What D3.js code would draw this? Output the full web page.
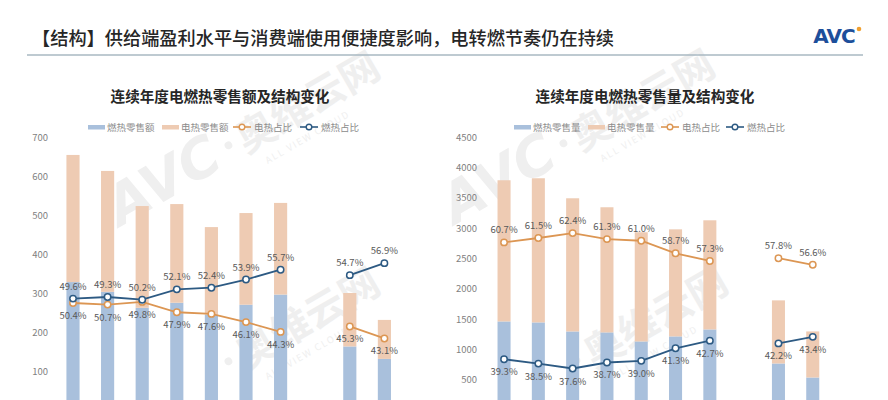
<!DOCTYPE html>
<html><head><meta charset="utf-8">
<script src="https://cdn.jsdelivr.net/npm/d3@7"></script>
<style>
html,body{margin:0;padding:0;background:#fff;}
svg{display:block;font-family:"Noto Sans CJK SC","Noto Sans",sans-serif;}
</style></head>
<body>
<svg id="c" width="888" height="400"></svg>
<script>
// ---------- data ----------
const categories = ["2017","2018","2019","2020","2021","2022","2023"," ","2023H1","2024H1"];

// left chart: retail sales value
const gasSales  = [328, 303, 262, 275, 245, 270, 296, null, 163, 131];
const elecSales = [326, 310, 261, 253, 224, 235, 235, null, 137, 100];
const gasShareA  = [50.4, 50.7, 50.2, 52.1, 52.4, 53.9, 55.7, null, 54.7, 56.9];
const elecShareA = [49.6, 49.3, 49.8, 47.9, 47.6, 46.1, 44.3, null, 45.3, 43.1];
const gasLabelsA  = ["49.6%","49.3%","50.2%","52.1%","52.4%","53.9%","55.7%","","54.7%","56.9%"];
const elecLabelsA = ["50.4%","50.7%","49.8%","47.9%","47.6%","46.1%","44.3%","","45.3%","43.1%"];
const ticksA = [100,200,300,400,500,600,700];

// right chart: retail volume
const gasVol  = [1460, 1444, 1295, 1279, 1130, 1213, 1328, null, 767, 536];
const elecVol = [2327, 2376, 2195, 2063, 1800, 1765, 1799, null, 1040, 759];
const gasShareB  = [39.3, 38.5, 37.6, 38.7, 39.0, 41.3, 42.7, null, 42.2, 43.4];
const elecShareB = [60.7, 61.5, 62.4, 61.3, 61.0, 58.7, 57.3, null, 57.8, 56.6];
const gasLabelsB  = ["39.3%","38.5%","37.6%","38.7%","39.0%","41.3%","42.7%","","42.2%","43.4%"];
const elecLabelsB = ["60.7%","61.5%","62.4%","61.3%","61.0%","58.7%","57.3%","","57.8%","56.6%"];
const ticksB = [500,1000,1500,2000,2500,3000,3500,4000,4500];

const mainTitle = "【结构】供给端盈利水平与消费端使用便捷度影响，电转燃节奏仍在持续";
const titleA = "连续年度电燃热零售额及结构变化";
const titleB = "连续年度电燃热零售量及结构变化";
const legendA = ["燃热零售额","电热零售额","电热占比","燃热占比"];
const legendB = ["燃热零售量","电热零售量","电热占比","燃热占比"];

// ---------- style ----------
const C = {blueBar:"#a9c0dc", peachBar:"#eecbb3", orangeLine:"#dc9653", blueLine:"#2d5a83",
           text:"#262626", tick:"#7f7f7f", label:"#595959", legend:"#8c8c8c"};

const svg = d3.select("#c");

// ---------- watermarks (underneath) ----------
const wm = svg.append("g").attr("fill","#efefef");
function watermark(x,y,size,angle,showAvc){
  const g = wm.append("g").attr("transform",`translate(${x},${y}) rotate(${angle})`);
  if (showAvc) g.append("text").attr("font-family","DejaVu Sans").attr("font-weight","bold").attr("font-style","italic")
    .attr("font-size",size).text("AVC");
  g.append("circle").attr("cx",size*2.45).attr("cy",-size*0.3).attr("r",size*0.07);
  g.append("text").attr("x",size*2.65).attr("font-weight","bold").attr("font-size",size*0.72).text("奥维云网");
  g.append("text").attr("x",size*2.9).attr("y",size*0.35).attr("font-size",size*0.17)
    .attr("letter-spacing",size*0.03).text("ALL VIEW CLOUD");
}
watermark(120,227,55,-30,true);
watermark(120,443,55,-30,false);
watermark(455,225,55,-30,true);
watermark(468,442,55,-30,false);

// ---------- header ----------
svg.append("text").attr("x",32).attr("y",37).attr("dominant-baseline","central")
  .attr("font-size",18.2).attr("fill",C.text).attr("font-weight",500).text(mainTitle);
svg.append("line").attr("x1",27).attr("x2",863).attr("y1",55).attr("y2",55)
  .attr("stroke","#a9b8c2").attr("stroke-width",1.6);
svg.append("text").attr("x",834).attr("y",36).attr("dominant-baseline","central")
  .attr("text-anchor","middle").attr("font-family","DejaVu Sans").attr("font-weight","bold")
  .attr("font-size",20).attr("letter-spacing",-1).attr("fill","#1d4f9b").text("AVC");
svg.append("circle").attr("cx",859).attr("cy",29).attr("r",2.3).attr("fill","#f0a030");

// ---------- chart builder ----------
function chart(opt){
  const x = d3.scaleBand().domain(categories).range([opt.x0, opt.x0+opt.w]).paddingInner(0.62).paddingOuter(0.31);
  const y = d3.scaleLinear().domain([0, opt.ymax]).range([410,137]);
  const y2 = d3.scaleLinear().domain([30,80]).range([410,137]);
  const g = svg.append("g");

  // title
  g.append("text").attr("x",opt.tx).attr("y",95).attr("text-anchor","middle").attr("dominant-baseline","central")
    .attr("font-size",14.6).attr("font-weight","bold").attr("fill",C.text).text(opt.title);

  // axis
  const ax = g.append("g").attr("transform",`translate(${opt.axX},0)`)
    .call(d3.axisLeft(y).tickValues(opt.ticks).tickSize(0).tickPadding(0).tickFormat(d3.format("d")));
  ax.select(".domain").remove();
  ax.selectAll("text").attr("fill",C.tick).attr("font-size",9.5).attr("font-family","'Noto Sans CJK SC'");

  // bars
  const idx = d3.range(categories.length).filter(i => opt.gas[i] != null);
  g.selectAll(".bg").data(idx).join("rect")
    .attr("x", i => x(categories[i])).attr("width", x.bandwidth())
    .attr("y", i => y(opt.gas[i])).attr("height", i => y(0)-y(opt.gas[i])).attr("fill",C.blueBar);
  g.selectAll(".be").data(idx).join("rect")
    .attr("x", i => x(categories[i])).attr("width", x.bandwidth())
    .attr("y", i => y(opt.gas[i]+opt.elec[i])).attr("height", i => y(0)-y(opt.elec[i])).attr("fill",C.peachBar);

  // lines
  const line = d3.line().defined(d => d.v != null).x(d => x(d.c)+x.bandwidth()/2).y(d => y2(d.v));
  function series(vals, labels, color, dy){
    const pts = vals.map((v,i)=>({c:categories[i], v, l:labels[i]}));
    g.append("path").datum(pts).attr("d",line).attr("fill","none").attr("stroke",color).attr("stroke-width",1.8);
    const p = pts.filter(d=>d.v!=null);
    g.selectAll(null).data(p).join("circle")
      .attr("cx", d=>x(d.c)+x.bandwidth()/2).attr("cy", d=>y2(d.v)).attr("r",3.2)
      .attr("fill","#fff").attr("stroke",color).attr("stroke-width",1.5);
    g.selectAll(null).data(p).join("text")
      .attr("x", d=>x(d.c)+x.bandwidth()/2).attr("y", d=>y2(d.v)+dy)
      .attr("text-anchor","middle").attr("dominant-baseline","central")
      .attr("font-size",9.5).attr("fill",C.label).text(d=>d.l);
  }
  series(opt.eShare, opt.eLab, C.orangeLine, opt.eDy);
  series(opt.gShare, opt.gLab, C.blueLine, opt.gDy);

  // legend
  const lg = g.append("g").attr("font-size",9.5).attr("fill",C.legend);
  const L = opt.leg;
  lg.append("rect").attr("x",L[0]).attr("y",125).attr("width",17).attr("height",4.5).attr("fill",C.blueBar);
  lg.append("text").attr("x",L[0]+19).attr("y",127).attr("dominant-baseline","central").text(opt.legend[0]);
  lg.append("rect").attr("x",L[1]).attr("y",125).attr("width",17).attr("height",4.5).attr("fill",C.peachBar);
  lg.append("text").attr("x",L[1]+19).attr("y",127).attr("dominant-baseline","central").text(opt.legend[1]);
  [[L[2],C.orangeLine,opt.legend[2]],[L[3],C.blueLine,opt.legend[3]]].forEach(([lx,col,t])=>{
    lg.append("line").attr("x1",lx).attr("x2",lx+18).attr("y1",127).attr("y2",127).attr("stroke",col).attr("stroke-width",1.6);
    lg.append("circle").attr("cx",lx+9).attr("cy",127).attr("r",2.8).attr("fill","#fff").attr("stroke",col).attr("stroke-width",1.4);
    lg.append("text").attr("x",lx+21).attr("y",127).attr("dominant-baseline","central").text(t);
  });
}

chart({x0:55.7, w:346, ymax:700, ticks:ticksA, axX:48, tx:220, title:titleA,
  gas:gasSales, elec:elecSales, gShare:gasShareA, eShare:elecShareA, gLab:gasLabelsA, eLab:elecLabelsA,
  gDy:-13, eDy:12, legend:legendA, leg:[88,162,233,300]});
chart({x0:486.9, w:343, ymax:4500, ticks:ticksB, axX:477, tx:645, title:titleB,
  gas:gasVol, elec:elecVol, gShare:gasShareB, eShare:elecShareB, gLab:gasLabelsB, eLab:elecLabelsB,
  gDy:12, eDy:-13, legend:legendB, leg:[514,588,661,726]});
</script>
</body></html>
